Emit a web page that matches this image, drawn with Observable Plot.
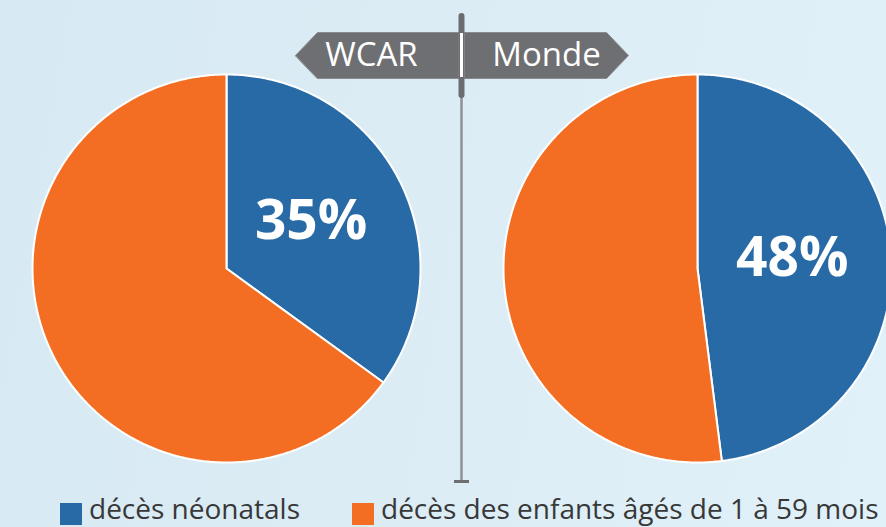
<!DOCTYPE html>
<html>
<head>
<meta charset="utf-8">
<script src="https://cdn.jsdelivr.net/npm/d3@7"></script>
<script src="https://cdn.jsdelivr.net/npm/@observablehq/plot@0.6"></script>
<style>
  html, body { margin: 0; padding: 0; }
  body {
    width: 886px; height: 527px; overflow: hidden;
    font-family: "Open Sans", sans-serif;
    background: linear-gradient(100deg, #d7e9f2 0%, #dbecf5 45%, #e1f1f9 100%);
  }
  #chart svg { display: block; background: transparent; }
  #legend { position: relative; height: 32px; }
  .sw { position: absolute; top: 8px; width: 22px; height: 22px; }
  .lt { position: absolute; top: -6px; font-size: 28px; line-height: 38px; color: #383838; white-space: nowrap; }
</style>
</head>
<body>
<div id="chart"></div>
<div id="legend"></div>
<script>
// ---- data ----
const regions = ["WCAR", "Monde"];
const categories = ["décès néonatals", "décès des enfants âgés de 1 à 59 mois"];
const neonatal = [35, 48];   // % of under-5 deaths that are neonatal
const child = [65, 52];      // % of under-5 deaths aged 1–59 months
const colors = ["#276aa6", "#f36e22"];

// ---- layout ----
const W = 886, H = 495;
const R = 194;
const centers = [[226, 268], [697, 268]];

const slices = [];
const labels = [];
regions.forEach((reg, i) => {
  const vals = [neonatal[i], child[i]];
  const total = vals[0] + vals[1];
  let a = 0;
  vals.forEach((v, k) => {
    const a0 = a, a1 = a + (v / total) * 2 * Math.PI;
    const id = reg + "-" + k;
    const [cx, cy] = centers[i];
    slices.push({id, cat: categories[k], x: cx, y: cy});
    const n = Math.max(2, Math.ceil((a1 - a0) / 0.01));
    for (let j = 0; j <= n; j++) {
      const t = a0 + (a1 - a0) * j / n;
      slices.push({id, cat: categories[k], x: cx + R * Math.sin(t), y: cy - R * Math.cos(t)});
    }
    if (k === 0) {
      const m = (a0 + a1) / 2;
      labels.push({text: v + "%", x: cx + 95 * Math.sin(m), y: cy - 95 * Math.cos(m) - 4});
    }
    a = a1;
  });
});

// signpost decoration
const signs = [
  {id: "L", pts: [[295,55],[317,32],[458,32],[458,78],[317,78]]},
  {id: "R", pts: [[464,32],[606,32],[628,55],[606,78],[464,78]]}
].flatMap(s => s.pts.map(([x, y]) => ({id: s.id, x, y})));
const signText = [{t: regions[0], x: 371, y: 55}, {t: regions[1], x: 546, y: 55}];

const chart = Plot.plot({
  width: W, height: H,
  margin: 0,
  x: {domain: [0, W], range: [0, W], axis: null},
  y: {domain: [0, H], range: [0, H], axis: null},
  color: {domain: categories, range: colors},
  style: {background: "transparent", fontFamily: "Open Sans"},
  marks: [
    Plot.line(slices, {x: "x", y: "y", z: "id", fill: "cat", stroke: "white", strokeWidth: 2, curve: "linear-closed", strokeLinejoin: "round"}),
    Plot.line(signs, {x: "x", y: "y", z: "id", fill: "#6e6f72", stroke: "#8a8b8e", strokeWidth: 1, curve: "linear-closed"}),
    Plot.ruleX([461], {y1: 97, y2: 480, stroke: "#8f9194", strokeWidth: 2.5}),
    Plot.ruleY([481], {x1: 454, x2: 469, stroke: "#6e6f72", strokeWidth: 3}),
    Plot.ruleX([461], {y1: 16, y2: 95, stroke: "#6b6c6f", strokeWidth: 6, strokeLinecap: "round"}),
    Plot.ruleX([461], {y1: 33, y2: 77, stroke: "white", strokeWidth: 3}),
    Plot.text(signText, {x: "x", y: "y", text: "t", fill: "white", fontSize: 33, textAnchor: "middle"}),
    Plot.text(labels, {x: "x", y: "y", text: "text", fill: "white", fontSize: 55, fontWeight: "bold", textAnchor: "middle"})
  ]
});
document.getElementById("chart").appendChild(chart);

// legend
const legend = document.getElementById("legend");
const lx = [60, 352];
categories.forEach((c, k) => {
  const sw = document.createElement("div");
  sw.className = "sw";
  sw.style.left = lx[k] + "px";
  sw.style.background = colors[k];
  legend.appendChild(sw);
  const t = document.createElement("div");
  t.className = "lt";
  t.style.left = (lx[k] + 29) + "px";
  t.textContent = c;
  legend.appendChild(t);
});
</script>
</body>
</html>
